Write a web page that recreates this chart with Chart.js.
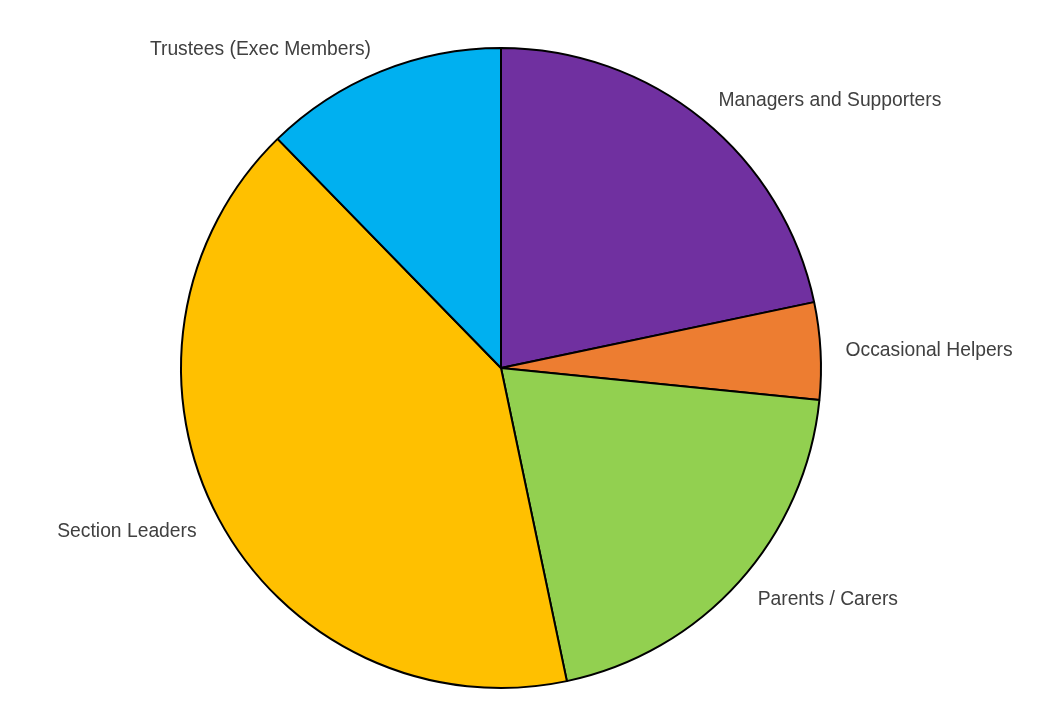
<!DOCTYPE html>
<html>
<head>
<meta charset="utf-8">
<script src="https://cdn.jsdelivr.net/npm/chart.js@4"></script>
<style>
html,body{margin:0;padding:0;background:#fff;}
#wrap{width:1057px;height:712px;position:relative;}
</style>
</head>
<body>
<div id="wrap"><canvas id="c" width="1057" height="712"></canvas></div>
<script>
const categories = ["Managers and Supporters","Occasional Helpers","Parents / Carers","Section Leaders","Trustees (Exec Members)"];
const values = [21.7, 4.9, 20.1, 41.0, 12.3];
const colors = ["#7030A0","#ED7D31","#92D050","#FFC000","#00B0F0"];

const outsideLabels = {
  id: 'outsideLabels',
  afterDatasetsDraw(chart) {
    const ctx = chart.ctx;
    const meta = chart.getDatasetMeta(0);
    ctx.save();
    ctx.font = '19.3px "Liberation Sans", Arial, sans-serif';
    ctx.fillStyle = '#404040';
    ctx.textBaseline = 'middle';
    meta.data.forEach((arc, i) => {
      const mid = (arc.startAngle + arc.endAngle) / 2;
      const r = arc.outerRadius + 25;
      const x = arc.x + Math.cos(mid) * r;
      const y = arc.y + Math.sin(mid) * r + 1;
      ctx.textAlign = Math.cos(mid) >= 0 ? 'left' : 'right';
      ctx.fillText(chart.data.labels[i], x, y);
    });
    ctx.restore();
  }
};

new Chart(document.getElementById('c'), {
  type: 'pie',
  data: {
    labels: categories,
    datasets: [{
      data: values,
      backgroundColor: colors,
      borderColor: '#000000',
      borderWidth: 2,
      hoverOffset: 0
    }]
  },
  options: {
    responsive: false,
    animation: false,
    layout: { padding: { top: 47, bottom: 23, left: 180, right: 235 } },
    plugins: {
      legend: { display: false },
      tooltip: { enabled: false }
    }
  },
  plugins: [outsideLabels]
});
</script>
</body>
</html>
